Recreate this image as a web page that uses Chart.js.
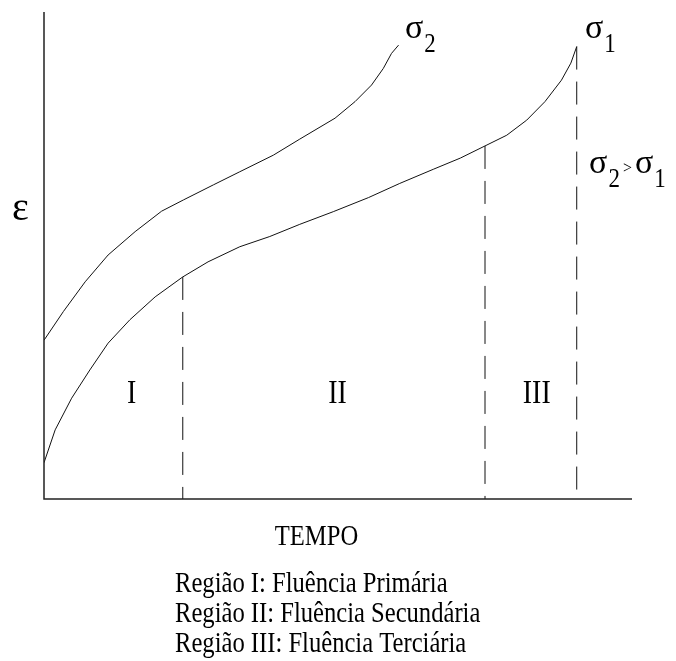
<!DOCTYPE html>
<html lang="pt">
<head>
<meta charset="utf-8">
<title>Fluência</title>
<script src="https://cdn.jsdelivr.net/npm/chart.js@4/dist/chart.umd.min.js"></script>
<style>
  html, body { margin: 0; padding: 0; background: #fff; }
  #wrap { width: 676px; height: 661px; }
</style>
</head>
<body>
<div id="wrap"><canvas id="creepChart" width="676" height="661"></canvas></div>
<script>
// tempo (x) e deformação (y) em unidades arbitrárias, 0..100
const sigma2Tempo = [0, 3.3, 7.0, 10.9, 15.5, 20.0, 23.7, 28.8, 33.3, 39.0, 43.5, 49.5, 52.9, 55.7, 57.7, 59.1, 60.3];
const sigma2Eps   = [32.6, 38.5, 44.6, 50.1, 54.9, 59.1, 61.4, 64.5, 67.2, 70.6, 73.9, 78.2, 81.6, 85.0, 88.4, 91.5, 93.2];

const sigma1Tempo = [0, 1.9, 4.7, 7.8, 10.9, 14.6, 18.9, 23.6, 27.9, 33.3, 38.4, 43.5, 49.2, 55.2, 60.5, 66.2, 70.8, 75.0, 78.7, 82.1, 85.2, 88.0, 89.6, 90.6];
const sigma1Eps   = [7.45, 14.2, 20.7, 26.5, 32.0, 36.8, 41.5, 45.6, 48.7, 51.8, 53.9, 56.4, 59.0, 61.9, 64.8, 67.7, 70.0, 72.5, 74.7, 77.8, 81.6, 86.0, 89.5, 92.9];

// limites das regiões I|II, II|III e fim da curva σ1
const limiteTempo = [23.6, 75.0, 90.6];
const limiteEps   = [45.6, 72.5, 92.9];

const regioes = ["I", "II", "III"];
const legenda = [
  "Região I: Fluência Primária",
  "Região II: Fluência Secundária",
  "Região III: Fluência Terciária"
];

const toPoints = (xs, ys) => xs.map((x, i) => ({ x: x, y: ys[i] }));

const datasets = [
  { data: toPoints(sigma2Tempo, sigma2Eps), borderColor: "#111", borderWidth: 1 },
  { data: toPoints(sigma1Tempo, sigma1Eps), borderColor: "#111", borderWidth: 1 }
];
limiteTempo.forEach((t, i) => {
  datasets.push({
    data: [{ x: t, y: limiteEps[i] }, { x: t, y: 0 }],
    borderColor: "#111",
    borderWidth: 1,
    borderDash: [23, 12]
  });
});

const SERIF = '"Liberation Serif", "Times New Roman", serif';

// texto ligeiramente condensado na horizontal
function texto(ctx, str, x, y, size, align, sx) {
  ctx.save();
  ctx.translate(x, y);
  ctx.scale(sx, 1);
  ctx.font = size + "px " + SERIF;
  ctx.textAlign = align || "left";
  ctx.textBaseline = "alphabetic";
  ctx.fillStyle = "#000";
  ctx.fillText(str, 0, 0);
  ctx.restore();
}

// σ com índice
function sigma(ctx, idx, x, y) {
  ctx.font = "34px " + SERIF;
  texto(ctx, "σ", x, y, 34, "left", 1);
  const w = ctx.measureText("σ").width;
  texto(ctx, idx, x + w + 1, y + 14, 28, "left", 0.82);
  ctx.font = "28px " + SERIF;
  return x + w + 1 + ctx.measureText(idx).width * 0.82;
}

const rotulos = {
  id: "rotulos",
  afterDraw(chart) {
    const ctx = chart.ctx;
    const xs = chart.scales.x, ys = chart.scales.y;
    const a = chart.chartArea;

    // eixos
    ctx.save();
    ctx.strokeStyle = "#222";
    ctx.lineWidth = 1.5;
    ctx.beginPath();
    ctx.moveTo(a.left, a.top);
    ctx.lineTo(a.left, a.bottom);
    ctx.lineTo(a.right, a.bottom);
    ctx.stroke();
    ctx.restore();

    // I, II, III
    const xr = [14.9, 49.9, 83.8];
    regioes.forEach((r, i) => {
      texto(ctx, r, xs.getPixelForValue(xr[i]), ys.getPixelForValue(19.7), 34, "center", 0.82);
    });

    // curvas
    sigma(ctx, "2", xs.getPixelForValue(61.4), ys.getPixelForValue(94.6));
    sigma(ctx, "1", xs.getPixelForValue(92.0), ys.getPixelForValue(94.6));

    // σ2 > σ1
    let px = xs.getPixelForValue(92.7);
    const py = ys.getPixelForValue(66.9);
    px = sigma(ctx, "2", px, py);
    texto(ctx, ">", px + 3, py, 16, "left", 1);
    sigma(ctx, "1", px + 15, py);

    // ε e eixo do tempo
    texto(ctx, "ε", 12, 220, 40, "left", 1);
    texto(ctx, "TEMPO", 316.5, 545, 30, "center", 0.82);
    legenda.forEach((l, i) => texto(ctx, l, 175, 591.7 + i * 30, 30, "left", 0.82));
  }
};

new Chart(document.getElementById("creepChart"), {
  type: "scatter",
  data: { datasets: datasets },
  options: {
    responsive: false,
    animation: false,
    devicePixelRatio: 1,
    showLine: true,
    elements: { point: { radius: 0, hoverRadius: 0 }, line: { tension: 0, fill: false } },
    layout: { padding: { left: 44, right: 44, top: 12, bottom: 162 } },
    scales: {
      x: { type: "linear", min: 0, max: 100, display: false },
      y: { type: "linear", min: 0, max: 100, display: false }
    },
    plugins: { legend: { display: false }, tooltip: { enabled: false } }
  },
  plugins: [rotulos]
});
</script>
</body>
</html>
